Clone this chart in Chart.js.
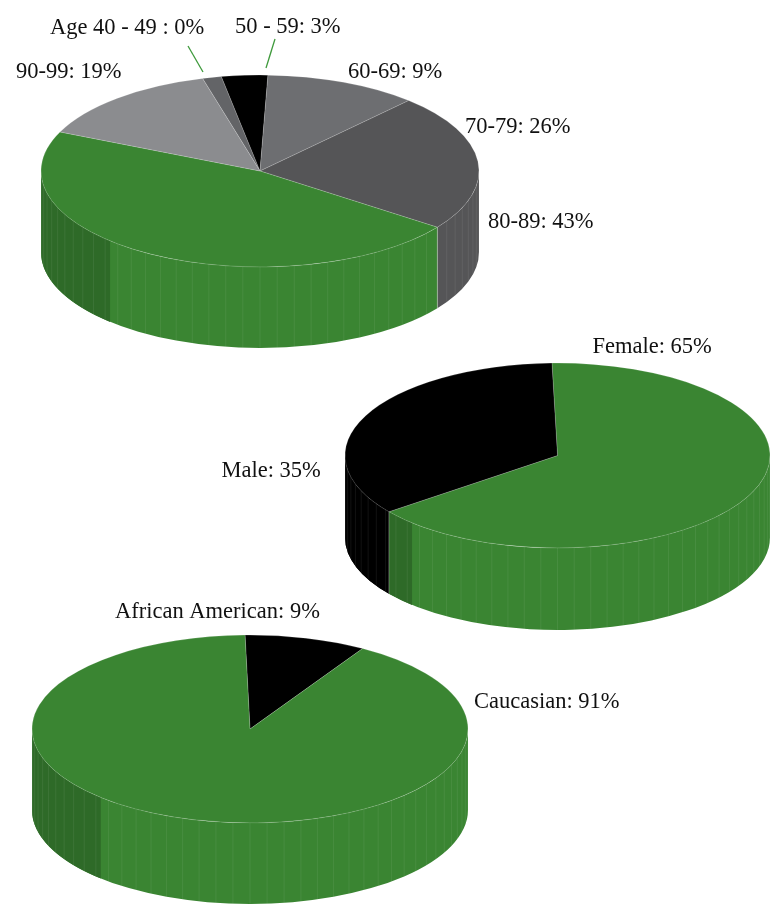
<!DOCTYPE html>
<html>
<head>
<meta charset="utf-8">
<script src="https://cdn.jsdelivr.net/npm/chart.js@4.4.0/dist/chart.umd.min.js"></script>
<style>
  html, body { margin: 0; padding: 0; background: #fff; overflow: hidden; }
  #page { position: relative; width: 771px; height: 907px; }
  canvas { position: absolute; left: 0; }
</style>
</head>
<body>
<div id="page">
  <canvas id="ageChart" width="771" height="360" style="top:0px"></canvas>
  <canvas id="genderChart" width="771" height="310" style="top:330px"></canvas>
  <canvas id="raceChart" width="771" height="317" style="top:590px"></canvas>
</div>
<script>
// ---- data ----
const ageLabels = ['Age 40 - 49 : 0%', '50 - 59: 3%', '60-69: 9%', '70-79: 26%', '80-89: 43%', '90-99: 19%'];
const ageValues = [1.4, 3.4, 11.3, 23.1, 46.7, 14.1];
const ageColors = ['#636467', '#000000', '#6d6e71', '#555557', '#3a8532', '#8b8c8f'];

const genderLabels = ['Female: 65%', 'Male: 35%'];
const genderValues = [65, 35];
const genderColors = ['#3a8532', '#000000'];

const raceLabels = ['African American: 9%', 'Caucasian: 91%'];
const raceValues = [9, 91];
const raceColors = ['#000000', '#3a8532'];

// label anchors relative to the pie centre (text left / baseline), leader lines
const ageLabelPos = [[-210, -137], [-25, -138], [88, -93], [205, -38], [228, 57], [-244, -93]];
const ageLeaders = [[-72, -125, -57, -99], [15, -132, 6, -103], null, null, null, null];
const genderLabelPos = [[35, -103], [-336, 21]];
const raceLabelPos = [[-135, -111], [224, -21]];

function shade(hex, f) {
    const n = parseInt(hex.slice(1), 16);
    const r = Math.round(((n >> 16) & 255) * f);
    const g = Math.round(((n >> 8) & 255) * f);
    const b = Math.round((n & 255) * f);
    return `rgb(${r},${g},${b})`;
}

function wall(ctx, cx, cy, r, ry, d, a, b, fill) {
    ctx.beginPath();
    ctx.ellipse(cx, cy, r, ry, 0, a, b);
    ctx.ellipse(cx, cy + d, r, ry, 0, b, a, true);
    ctx.closePath();
    ctx.fillStyle = fill;
    ctx.fill();
}

function edge(ctx, cx, cy, r, ry, d, t, style) {
    const x = cx + r * Math.cos(t), y = cy + ry * Math.sin(t);
    ctx.beginPath();
    ctx.moveTo(x, y);
    ctx.lineTo(x, y + d);
    ctx.strokeStyle = style;
    ctx.lineWidth = 0.8;
    ctx.stroke();
}

// squashes the pie into an ellipse and draws the extruded front wall under it
const pie3d = {
    id: 'pie3d',
    beforeDatasetsDraw(chart, args, opts) {
        const ctx = chart.ctx;
        const arcs = chart.getDatasetMeta(0).data;
        const cx = arcs[0].x, cy = arcs[0].y, r = arcs[0].outerRadius;
        const ry = r * opts.tilt, d = opts.depth;
        const colors = chart.data.datasets[0].backgroundColor;
        const darkFrom = 0.74 * Math.PI, step = Math.PI / 40;
        arcs.forEach((arc, i) => {
            [[0, Math.PI], [2 * Math.PI, 3 * Math.PI]].forEach(([f0, f1]) => {
                const lo = Math.max(arc.startAngle, f0), hi = Math.min(arc.endAngle, f1);
                if (hi <= lo) return;
                wall(ctx, cx, cy, r, ry, d, lo - f0, hi - f0, colors[i]);
                const dl = Math.max(lo - f0, darkFrom), dh = hi - f0;
                if (dh > dl) wall(ctx, cx, cy, r, ry, d, dl, dh, shade(colors[i], 0.8));
                for (let t = step; t < Math.PI; t += step) {
                    if (t > lo - f0 + 0.01 && t < hi - f0 - 0.01) {
                        edge(ctx, cx, cy, r, ry, d, t, 'rgba(255,255,255,0.09)');
                    }
                }
                if (lo - f0 > 0.001) edge(ctx, cx, cy, r, ry, d, lo - f0, 'rgba(255,255,255,0.4)');
            });
        });
        ctx.save();
        ctx.translate(cx, cy);
        ctx.scale(1, opts.tilt);
        ctx.translate(-cx, -cy);
    },
    afterDatasetsDraw(chart, args, opts) {
        const ctx = chart.ctx;
        ctx.restore();
        const arc = chart.getDatasetMeta(0).data[0];
        ctx.save();
        ctx.font = '22.5px "Liberation Serif", serif';
        ctx.fillStyle = '#111';
        ctx.textBaseline = 'alphabetic';
        chart.data.labels.forEach((lab, i) => {
            const p = opts.labelPos[i];
            ctx.fillText(lab, arc.x + p[0], arc.y + p[1]);
            const l = opts.leaders && opts.leaders[i];
            if (l) {
                ctx.beginPath();
                ctx.moveTo(arc.x + l[0], arc.y + l[1]);
                ctx.lineTo(arc.x + l[2], arc.y + l[3]);
                ctx.strokeStyle = '#3f9a3c';
                ctx.lineWidth = 1.3;
                ctx.stroke();
            }
        });
        ctx.restore();
    }
};

function makePie(id, labels, values, colors, radius, rotation, padding, plug) {
    return new Chart(document.getElementById(id), {
        type: 'pie',
        data: {
            labels: labels,
            datasets: [{
                data: values,
                backgroundColor: colors,
                borderColor: 'rgba(255,255,255,0.3)',
                borderWidth: 0.8,
                radius: radius
            }]
        },
        options: {
            responsive: false,
            animation: false,
            rotation: rotation,
            events: [],
            layout: { padding: padding },
            plugins: {
                legend: { display: false },
                tooltip: { enabled: false },
                pie3d: plug
            }
        },
        plugins: [pie3d]
    });
}

// centre (260,171)
makePie('ageChart', ageLabels, ageValues, ageColors, 219, -15.2,
    { left: 0, right: 251, top: 0, bottom: 18 },
    { tilt: 0.438, depth: 81, labelPos: ageLabelPos, leaders: ageLeaders });

// centre (557.5,455.5)
makePie('genderChart', genderLabels, genderValues, genderColors, 212.5, -1.5,
    { left: 344, right: 0, top: 0, bottom: 59 },
    { tilt: 0.435, depth: 82, labelPos: genderLabelPos });

// centre (250,729)
makePie('raceChart', raceLabels, raceValues, raceColors, 218, -1.3,
    { left: 0, right: 271, top: 0, bottom: 39 },
    { tilt: 0.431, depth: 81, labelPos: raceLabelPos });
</script>
</body>
</html>
